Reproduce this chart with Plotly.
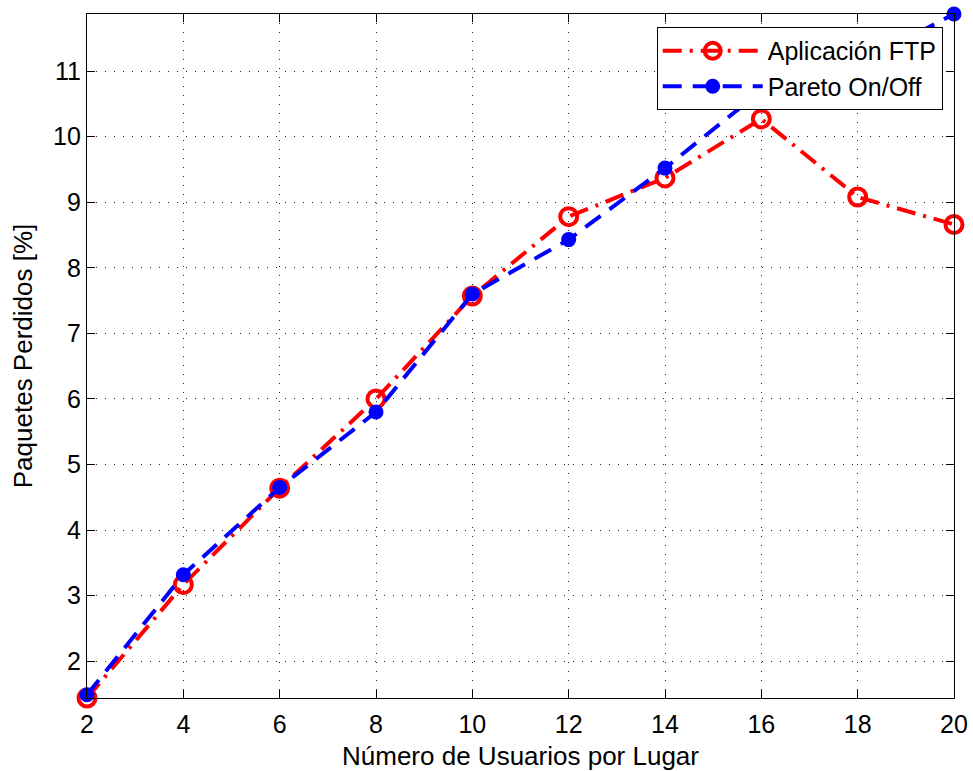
import plotly.graph_objects as go

# Users per site
usuarios = [2, 4, 6, 8, 10, 12, 14, 16, 18, 20]

# Packet loss [%] for each traffic model
perdidas_ftp = [1.44, 3.17, 4.64, 6.00, 7.57, 8.78, 9.37, 10.27, 9.08, 8.66]
perdidas_pareto = [1.49, 3.32, 4.65, 5.80, 7.60, 8.43, 9.52, 10.70, 11.10, 11.87]

x_ticks = [2, 4, 6, 8, 10, 12, 14, 16, 18, 20]
y_ticks = [2, 3, 4, 5, 6, 7, 8, 9, 10, 11]

FONT = "Liberation Sans, Arial, Helvetica, sans-serif"

fig = go.Figure()

fig.add_trace(go.Scatter(
    x=usuarios, y=perdidas_ftp,
    name="Aplicación FTP",
    mode="lines+markers",
    line=dict(color="#ff0000", width=4, dash="19px,8px,3px,8px"),
    marker=dict(symbol="circle-open", size=17, color="#ff0000",
                line=dict(width=4, color="#ff0000")),
    cliponaxis=False,
))

fig.add_trace(go.Scatter(
    x=usuarios, y=perdidas_pareto,
    name="Pareto On/Off",
    mode="lines+markers",
    line=dict(color="#0000ff", width=4, dash="19px,11px"),
    marker=dict(symbol="circle", size=15, color="#0000ff",
                line=dict(width=0)),
    cliponaxis=False,
))

axis_common = dict(
    showline=True, linecolor="black", linewidth=1.2, mirror="ticks",
    ticks="inside", ticklen=8, tickwidth=1, tickcolor="black",
    showgrid=True, gridcolor="#222222", gridwidth=1, griddash="1px,8px",
    zeroline=False, automargin=False,
    tickfont=dict(family=FONT, size=25, color="black"),
)

fig.update_xaxes(
    range=[2, 20], tickvals=x_ticks, ticktext=[str(v) for v in x_ticks],
    ticklabelstandoff=4,
    title=dict(text="Número de Usuarios por Lugar",
               font=dict(family=FONT, size=26, color="black"), standoff=9),
    **axis_common,
)
fig.update_yaxes(
    range=[1.44, 11.87], tickvals=y_ticks, ticktext=[str(v) for v in y_ticks],
    ticklabelstandoff=0,
    title=dict(text="Paquetes Perdidos [%]",
               font=dict(family=FONT, size=26, color="black"), standoff=12),
    **axis_common,
)

fig.update_layout(
    width=973, height=771,
    margin=dict(l=87, r=19, t=14, b=73),
    paper_bgcolor="white", plot_bgcolor="white",
    font=dict(family=FONT, size=25, color="black"),
    showlegend=True,
    legend=dict(
        x=0.987, y=0.981, xanchor="right", yanchor="top",
        bgcolor="white", bordercolor="black", borderwidth=1,
        font=dict(family=FONT, size=25, color="black"),
        itemwidth=100, tracegroupgap=0,
    ),
)

fig.write_html("out.html")
